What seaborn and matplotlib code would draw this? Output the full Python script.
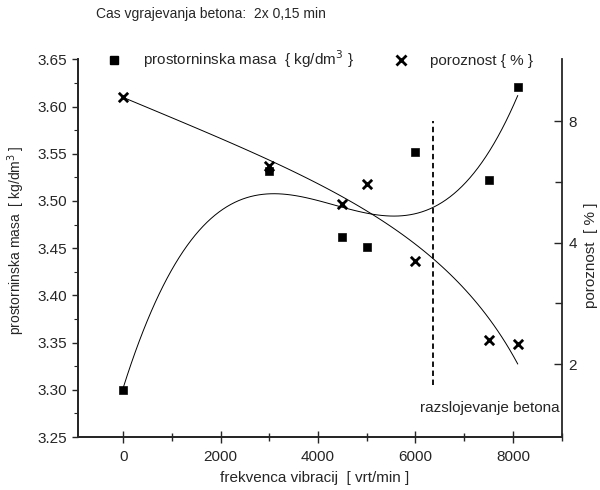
import numpy as np
import seaborn as sns
import matplotlib.pyplot as plt
from matplotlib.ticker import MultipleLocator, FixedLocator, FuncFormatter, NullFormatter
from matplotlib.lines import Line2D

# DATA
frekvenca = [0, 3000, 4500, 5000, 6000, 7500, 8100]
gostota = [3.30, 3.532, 3.462, 3.451, 3.552, 3.522, 3.621]
poroznost = [9.2, 6.2, 5.0, 5.6, 3.6, 2.3, 2.25]
meja_x = 6350            # razslojevanje betona
meja_y = [3.305, 3.585]

# STYLE
sns.set_style("ticks")
plt.rcParams['font.family'] = ['Liberation Sans', 'DejaVu Sans']
plt.rcParams['font.size'] = 11

fig = plt.figure(figsize=(6, 4.9), dpi=100)
ax = fig.add_axes([0.13, 0.108, 0.806, 0.771])
ax2 = ax.twinx()

# DENSITY: squares + cubic fit
sns.regplot(x=frekvenca, y=gostota, order=3, ci=None, scatter=False,
            line_kws=dict(color="black", lw=0.7), ax=ax)
sns.scatterplot(x=frekvenca, y=gostota, marker="s", s=34, color="black",
                edgecolor="black", ax=ax, zorder=5)

# POROSITY: crosses + cubic fit on right axis
ax2.set_yscale("log", base=2)
sns.regplot(x=frekvenca, y=poroznost, order=3, ci=None, scatter=False,
            line_kws=dict(color="black", lw=0.7), ax=ax2)
sns.scatterplot(x=frekvenca, y=poroznost, marker="x", s=45, color="black",
                linewidth=2, ax=ax2, zorder=5)

# separation line
ax.plot([meja_x, meja_x], meja_y, color="black", lw=1.3, ls=(0, (3, 2)))
ax.text(8950, 3.281, "razslojevanje betona", ha="right", va="center", fontsize=11)

# AXES
ax.set_xlim(-930, 9000)
ax.set_ylim(3.25, 3.65)
ax.xaxis.set_major_locator(MultipleLocator(2000))
ax.xaxis.set_minor_locator(MultipleLocator(1000))
ax.yaxis.set_major_locator(MultipleLocator(0.05))
ax.yaxis.set_minor_locator(MultipleLocator(0.025))
ax.yaxis.set_major_formatter(FuncFormatter(lambda v, p: f"{v:.2f}"))
ax.tick_params(axis="x", which="major", direction="inout", length=8, width=1, pad=5, labelsize=11)
ax.tick_params(axis="x", which="minor", direction="inout", length=6, width=1)
ax.tick_params(axis="y", which="major", direction="out", length=4, width=1, pad=4, labelsize=11)
ax.tick_params(axis="y", which="minor", direction="out", length=3, width=0.8)

ax2.set_ylim(1.32, 11.4)
ax2.yaxis.set_major_locator(FixedLocator([2, 4, 8]))
ax2.yaxis.set_major_formatter(FuncFormatter(lambda v, p: f"{v:g}"))
ax2.yaxis.set_minor_locator(FixedLocator([2.83, 5.66]))
ax2.yaxis.set_minor_formatter(NullFormatter())
ax2.tick_params(axis="y", which="major", direction="in", length=6, width=1, pad=5, labelsize=11)
ax2.tick_params(axis="y", which="minor", direction="in", length=5, width=1)

for a in (ax, ax2):
    a.spines["top"].set_visible(False)
    for s in ("left", "right", "bottom"):
        a.spines[s].set_linewidth(1.3)
ax.spines["right"].set_visible(False)

ax.set_xlabel("frekvenca vibracij  [ vrt/min ]", fontsize=11)
ax.set_ylabel("prostorninska masa  [ kg/dm$^3$ ]", fontsize=10)
ax2.set_ylabel("poroznost  [ % ]", fontsize=11)
ax.xaxis.set_label_coords(0.49, -0.09)
ax.yaxis.set_label_coords(-0.105, 0.52)
ax2.yaxis.set_label_coords(1.046, 0.48)

# LEGEND
handles = [Line2D([], [], marker="s", color="black", ls="none", markersize=6),
           Line2D([], [], marker="x", color="black", ls="none", markersize=7, mew=2)]
labels = ["prostorninska masa  { kg/dm$^3$ }", "poroznost { % }"]
ax.legend(handles, labels, ncol=2, loc="center left", bbox_to_anchor=(0.03, 1.0),
          frameon=False, handlelength=1.0, handletextpad=1.4, columnspacing=2.6, fontsize=11)

fig.text(0.352, 0.971, "Cas vgrajevanja betona:  2x 0,15 min", ha="center", va="center", fontsize=10)

fig.savefig("out.png", dpi=100)
